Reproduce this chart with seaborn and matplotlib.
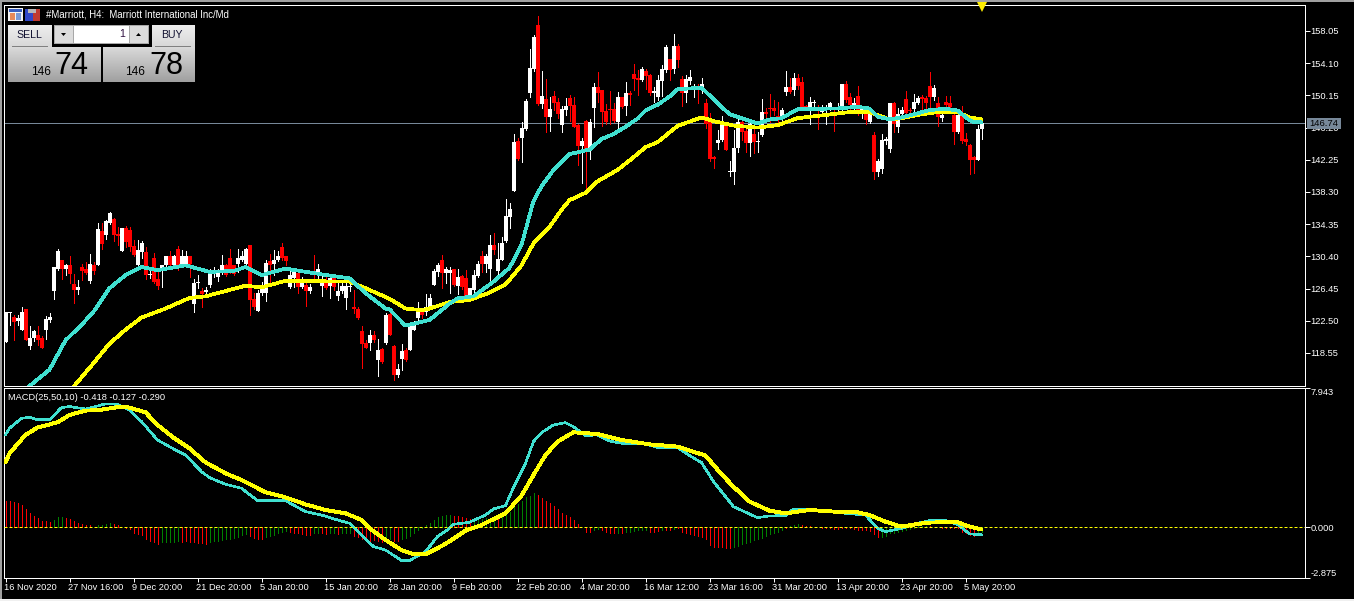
import numpy as np
import pandas as pd
import seaborn as sns
from matplotlib import pyplot as plt
from matplotlib.patches import Rectangle, Polygon
from matplotlib.transforms import ScaledTranslation

# OHLC per H4 bar
opens = [119.9,123.5,123.0,122.5,121.4,123.9,119.4,120.4,120.7,120.4,
    121.4,122.6,126.2,128.9,130.0,128.9,129.3,127.0,126.3,129.1,
    128.8,127.4,129.3,129.3,133.5,133.0,134.5,135.0,133.2,131.0,
    133.9,133.6,131.7,129.3,130.9,130.9,128.1,130.2,127.6,128.9,
    129.3,130.4,129.3,131.3,129.5,129.5,130.4,124.6,127.1,126.2,
    126.0,126.9,128.5,127.9,128.3,129.3,130.2,129.3,129.5,130.0,
    129.5,131.8,125.2,123.7,125.9,125.9,129.8,129.5,130.0,131.6,
    130.4,126.6,127.7,128.3,126.6,126.9,126.1,128.5,128.2,126.8,
    127.5,126.8,127.7,125.5,126.1,125.3,126.7,124.2,124.0,121.3,
    119.8,119.8,120.8,117.7,119.0,119.8,123.3,119.4,115.8,117.8,
    118.9,118.9,121.4,122.8,123.6,123.6,124.2,126.9,128.5,129.95,
    128.3,128.3,128.8,126.8,128.0,127.7,125.45,126.3,128.0,130.4,
    129.5,128.85,131.8,128.6,129.95,132.3,135.2,138.45,144.5,144.9,
    146.0,150.5,153.35,158.8,149.1,149.7,147.55,150.1,149.3,146.5,
    148.35,149.8,149.0,146.5,143.95,147.05,143.5,148.65,151.15,150.8,
    148.2,148.45,148.5,146.9,149.9,148.85,150.4,152.8,152.25,152.05,
    153.15,152.65,150.4,149.9,151.95,153.25,154.6,153.35,156.2,152.15,
    150.5,151.95,151.0,151.3,151.0,149.25,146.9,142.55,144.25,144.7,
    146.7,140.8,140.8,143.65,146.9,145.8,144.25,145.4,144.45,145.3,
    148.15,148.55,148.55,147.6,147.35,150.6,151.15,150.8,152.25,151.75,
    148.9,148.75,149.2,148.75,148.15,148.35,148.75,148.15,148.35,148.35,
    151.6,149.9,148.75,150.05,148.0,148.35,146.9,145.3,140.8,141.1,
    144.6,143.6,149.2,146.3,147.85,149.65,148.35,148.5,149.2,149.9,
    149.85,151.35,150.0,149.2,147.4,149.4,149.2,147.75,145.7,147.75,
    144.8,144.05,142.55,142.2,145.98]
closes = [123.6,123.6,122.4,122.9,123.6,120.2,120.4,121.2,120.1,119.2,
    122.7,123.0,129.1,131.1,128.9,129.3,128.2,126.3,126.6,128.6,
    128.4,129.5,128.6,133.8,131.9,134.8,135.7,133.0,132.9,133.9,
    132.2,131.6,130.6,131.2,132.0,128.1,128.2,127.3,126.8,129.3,
    130.4,129.3,130.4,129.3,130.4,130.4,129.5,127.1,127.3,125.8,
    126.3,128.4,128.7,128.3,129.3,128.1,128.7,128.2,130.2,130.4,
    131.3,125.0,124.2,125.9,126.8,129.6,129.3,130.0,130.4,130.2,
    129.8,128.1,128.5,126.6,127.2,126.2,126.6,128.1,128.9,127.2,
    126.5,127.7,126.7,126.2,126.8,126.8,126.8,123.9,122.9,119.7,
    119.2,120.7,120.1,118.9,117.4,123.2,120.8,115.8,116.6,118.8,
    117.7,122.0,122.4,123.6,123.2,124.2,125.3,128.65,129.4,128.3,
    128.8,128.7,126.9,127.9,126.6,125.45,126.5,128.1,129.5,129.5,
    130.4,131.8,131.2,130.1,132.1,135.35,136.2,144.4,142.4,146.15,
    149.5,153.5,157.35,149.05,150.1,147.55,148.5,149.2,147.9,148.45,
    148.85,148.85,146.3,143.95,144.55,143.5,146.9,151.15,150.5,148.15,
    146.85,148.35,147.0,149.9,148.7,150.4,150.15,152.15,152.05,153.35,
    152.5,150.4,150.7,152.05,153.35,156.1,153.25,156.2,154.5,150.4,
    152.15,152.45,151.3,150.8,151.55,146.7,142.3,142.3,144.7,146.7,
    143.45,140.9,143.75,146.85,145.7,144.25,146.7,144.4,144.55,148.15,
    147.85,148.45,148.25,147.35,148.35,151.15,150.6,152.25,151.3,148.75,
    148.55,149.3,149.3,148.45,148.35,148.55,149.2,147.95,148.65,151.55,
    149.6,148.95,149.2,148.15,148.45,147.1,148.15,140.8,142.1,144.7,
    144.75,149.2,146.7,147.85,148.35,147.95,148.2,149.3,149.8,149.65,
    149.2,150.0,151.1,147.55,147.75,148.95,148.7,145.7,147.75,144.6,
    144.4,142.2,142.2,146.0,146.74]
highs = [123.6,123.6,123.2,123.2,124.2,124.0,121.8,121.4,121.9,120.6,
    123.1,123.4,129.1,131.3,130.0,129.5,130.4,128.2,127.5,129.5,
    129.7,130.7,129.7,134.5,134.5,134.9,135.8,135.1,134.0,133.9,
    134.1,134.0,132.4,132.4,132.3,131.5,128.9,130.8,128.9,129.3,
    130.4,131.0,130.6,131.7,131.2,131.0,130.4,127.6,128.1,126.5,
    126.6,128.9,129.1,128.9,130.6,129.5,131.3,129.3,131.3,131.0,
    131.4,131.8,125.9,126.3,127.3,130.0,130.7,131.2,131.0,132.0,
    130.4,129.1,128.9,128.5,127.9,127.1,127.0,130.6,129.5,128.1,
    128.1,128.1,128.2,127.1,127.5,127.1,127.5,126.3,124.2,121.9,
    120.1,121.4,121.2,120.3,119.1,123.4,123.5,119.5,117.2,119.7,
    119.1,122.2,122.5,124.8,124.0,125.8,125.8,128.9,129.6,130.6,
    129.1,129.1,128.9,128.9,128.1,128.7,126.5,128.7,129.8,131.05,
    130.7,133.0,133.3,132.1,132.8,137.5,137.0,145.4,144.9,146.85,
    149.7,155.9,157.6,159.9,153.15,152.15,149.9,150.7,149.8,148.8,
    149.8,150.2,149.9,146.7,144.95,147.1,147.3,151.7,153.0,150.8,
    149.1,150.7,149.2,150.6,149.9,151.75,150.7,154.0,153.25,153.6,
    153.35,152.8,151.15,152.65,153.9,156.3,154.6,157.7,156.4,152.5,
    152.65,153.25,151.55,151.55,152.25,149.65,147.95,142.7,145.9,147.6,
    146.9,142.1,145.9,147.2,147.1,146.5,147.2,146.7,145.7,149.7,
    148.55,150.3,149.6,149.4,148.55,153.15,152.25,152.85,152.8,152.35,
    148.95,149.9,149.6,148.95,148.95,148.95,149.4,148.35,149.2,151.6,
    151.9,150.5,149.8,151.3,148.75,148.55,148.35,145.6,142.3,145.4,
    145.0,149.25,149.4,148.55,148.75,150.7,148.65,150.3,150.05,150.2,
    150.05,153.05,151.4,149.9,148.35,150.05,150.05,148.35,148.35,148.85,
    145.55,144.2,142.75,146.5,146.9]
lows = [119.9,122.0,120.1,122.0,121.4,120.1,119.0,120.0,119.5,119.2,
    120.3,122.4,125.2,128.7,127.6,128.1,127.1,124.7,125.8,127.5,
    128.2,127.1,128.2,129.3,131.3,132.5,134.4,132.3,131.8,131.0,
    131.6,131.0,130.4,129.1,130.2,127.6,127.8,127.1,126.4,126.6,
    129.1,129.1,129.1,128.7,129.3,129.1,127.9,123.6,126.5,124.2,
    125.7,126.6,127.9,127.4,128.2,128.0,128.3,128.1,128.5,129.8,
    129.5,123.2,124.0,123.7,125.7,124.9,127.1,128.1,129.8,130.0,
    129.3,126.5,126.7,125.9,126.5,124.3,125.9,127.3,127.3,125.5,
    126.4,125.3,126.3,125.1,125.9,124.0,126.2,123.4,122.7,116.7,
    119.1,118.9,119.9,115.7,117.3,119.7,120.8,115.2,115.6,116.5,
    117.6,118.9,121.4,122.4,122.9,123.2,124.2,126.9,128.0,126.55,
    127.1,125.9,126.8,125.8,126.35,125.45,125.45,125.9,127.9,128.5,
    128.5,127.4,130.7,127.7,129.9,132.15,133.9,138.45,142.2,142.0,
    145.9,150.0,153.15,149.0,148.6,145.7,145.8,148.4,147.35,145.7,
    147.75,147.0,146.3,141.6,139.35,138.8,142.4,146.3,149.4,146.45,
    146.7,146.7,146.9,145.9,148.6,147.75,149.0,150.8,150.2,151.9,
    150.95,150.2,149.4,149.6,150.1,153.05,152.05,152.85,153.6,148.85,
    149.4,151.6,149.9,149.25,150.4,146.1,142.1,141.3,143.6,144.55,
    143.45,140.3,139.3,143.25,144.7,143.15,142.7,143.1,143.25,145.15,
    147.35,146.9,147.75,146.7,147.15,150.2,150.5,150.2,150.9,148.55,
    148.35,146.65,148.55,146.05,147.75,146.65,148.35,145.8,148.0,148.35,
    149.4,148.35,148.35,147.75,147.35,146.7,146.8,139.9,140.25,140.65,
    144.2,143.25,145.6,145.6,147.55,147.75,147.65,147.95,149.05,148.45,
    148.65,148.55,149.6,146.4,147.0,148.35,148.35,144.2,145.55,144.25,
    144.05,140.5,140.6,142.2,144.8]

# moving averages, read at the bends of each line
fast_bars = [3,6,11,13,15,19,22,26,30,34,38,45,51,57,60,64,70,79,86,90,95,96,100,106,111,113,117,122,126,129,
    132,134,137,141,146,149,152,155,158,160,163,166,168,174,178,181,188,191,194,198,208,213,216,218,221,224,228,231,235,238,241,242,244]
fast_ma = [112.0,114.5,116.5,118.3,120.1,122.0,123.6,126.5,128.1,129.1,128.7,129.3,128.5,128.6,129.1,128.1,128.9,128.2,127.7,125.9,124.0,123.9,121.9,122.6,124.6,125.25,125.5,127.3,129.0,131.8,
    137.2,139.0,141.0,142.95,143.5,144.8,145.4,146.3,147.3,148.3,149.0,150.0,150.9,151.1,149.2,147.85,146.7,147.2,147.35,148.45,148.55,148.75,148.55,147.55,147.2,147.45,147.95,148.35,148.5,148.3,147.1,146.9,146.85]
slow_bars = [14,17,22,26,30,34,40,46,50,60,64,70,86,90,96,100,104,106,111,116,121,125,129,132,136,139,141,145,148,153,157,160,163,168,174,177,182,188,193,198,205,211,216,221,224,228,233,238,241,244]
slow_ma = [112.5,114.4,117.3,119.7,121.4,122.9,124.0,125.3,125.5,126.8,126.6,127.4,127.3,126.5,125.2,124.0,123.8,124.0,124.8,125.05,125.95,126.95,129.3,132.0,134.0,136.1,137.3,138.2,139.6,141.0,142.55,143.8,144.4,146.4,147.45,147.0,146.45,146.2,146.5,147.35,147.75,148.1,148.1,147.2,147.35,147.75,148.1,148.1,147.45,147.2]

# MACD panel
macd_bars = [0,1,4,6,8,11,14,16,20,25,28,31,34,38,42,45,49,51,55,59,63,70,75,79,83,86,89,92,95,99,101,105,108,111,112,116,120,122,125,127,130,132,134,137,140,142,145,148,151,155,160,163,168,171,174,177,182,188,191,195,197,201,207,215,218,220,224,228,231,235,238,241,244]
macd_line = [5.28,5.66,6.23,6.29,6.15,6.15,6.84,6.90,6.76,7.05,7.03,6.70,6.04,4.99,4.48,4.13,3.18,2.84,2.46,2.23,1.52,1.52,0.90,0.70,0.42,0.23,-0.44,-1.10,-1.30,-1.90,-1.90,-1.39,-0.53,-0.06,0.17,0.29,0.70,1.05,1.24,2.27,3.66,4.9,5.41,5.85,5.98,5.75,5.24,5.28,4.93,4.76,4.76,4.57,4.57,4.10,3.70,2.61,1.18,0.55,0.65,0.67,1.05,1.05,0.86,0.70,-0.06,-0.25,-0.06,0.23,0.38,0.38,0.17,-0.38,-0.418]
signal_bars = [0,1,5,8,13,16,20,23,29,31,35,38,42,46,50,55,59,62,65,70,75,80,85,89,91,95,99,102,105,108,111,115,119,125,129,132,135,138,142,148,154,161,168,175,179,182,186,191,195,201,207,213,216,220,224,228,231,235,238,241,244]
signal_line = [3.71,4.23,5.28,5.70,6.0,6.42,6.67,6.69,6.90,6.84,6.57,5.85,5.12,4.51,3.71,3.09,2.70,2.36,2.0,1.71,1.31,0.99,0.80,0.42,-0.06,-0.72,-1.30,-1.54,-1.54,-1.2,-0.80,-0.19,0.13,0.8,1.81,2.99,4.13,4.9,5.43,5.33,4.99,4.74,4.61,4.10,3.03,2.32,1.47,0.95,0.8,0.99,0.9,0.86,0.70,0.32,0.04,0.19,0.27,0.29,0.29,0.04,-0.127]
hist_values = [1.5,1.5,1.47,1.37,1.28,1.05,.8,.67,.51,.36,
    .36,.29,.42,.59,.59,.51,.46,.36,.23,.17,
    .13,.11,.02,.11,.15,.21,.27,.19,.11,.02,
    -.02,-.11,-.3,-.38,-.44,-.67,-.76,-.86,-.93,-.86,
    -.86,-.82,-.82,-.78,-.82,-.78,-.82,-.86,-.88,-.9,
    -.93,-.86,-.78,-.78,-.72,-.67,-.67,-.63,-.53,-.44,
    -.38,-.48,-.6,-.67,-.67,-.53,-.48,-.44,-.34,-.25,
    -.21,-.29,-.3,-.34,-.38,-.44,-.44,-.34,-.3,-.34,
    -.38,-.34,-.34,-.38,-.34,-.34,-.34,-.48,-.55,-.67,
    -.72,-.82,-.72,-.78,-.82,-.59,-.67,-.78,-.78,-.69,
    -.63,-.48,-.34,-.15,-.02,.13,.23,.42,.57,.67,
    .7,.7,.65,.65,.57,.51,.48,.42,.42,.46,
    .51,.51,.55,.61,.67,.7,.9,1.14,1.33,1.52,
    1.71,1.79,1.98,1.85,1.7,1.5,1.37,1.22,1.05,.8,
    .7,.57,.42,.17,.01,-.25,-.29,-.15,-.11,-.15,
    -.29,-.3,-.32,-.32,-.3,-.29,-.25,-.21,-.17,-.13,
    -.17,-.25,-.29,-.21,-.15,-.17,-.13,-.1,-.06,-.29,
    -.32,-.36,-.44,-.5,-.53,-.67,-1.01,-1.1,-1.1,-1.12,
    -1.16,-1.2,-1.12,-1.05,-.97,-.91,-.82,-.74,-.67,-.59,
    -.48,-.38,-.3,-.25,-.15,-.02,.06,.11,.17,.11,
    .08,.06,.04,.01,-.02,-.06,-.06,-.1,-.1,-.04,
    -.04,-.06,-.08,-.13,-.13,-.15,-.2,-.4,-.53,-.53,
    -.48,-.34,-.3,-.25,-.2,-.15,-.08,-.06,.08,.1,
    .1,.06,.04,.02,-.02,-.04,-.06,-.04,-.06,-.25,
    -.34,-.44,-.48,-.38,-.29]
hist_side = list("rrrrrrrrrrrr" "ggg" "rrrrrrrr" "gggg" "rrrrrrrrrrrr" "ggggg" "rrrrrrr"
    "gggggggggg" "rrrr" "gggggg" "rrrrrr" "gg" "rr" "gg" "r" "ggg" "rrrrrrrr" "gg" "rr"
    "ggggggggggggg" "rrrrr" "gggggg" "r" "ggggggggg" "rrrrrrrrrrrrrr" "gg" "rrrr" "g" "r"
    "gggggg" "rrr" "g" "rr" "g" "rrrrrrrrrrrrrr" "ggggggggggggg" "r" "ggg"
    "rrrrrrrrrrrrrrrrrrrr" "gggggggggggg" "rrrrrrrrrrrr" "gg")

price_ticks = [158.05,154.10,150.15,146.20,142.25,138.30,134.35,130.40,126.45,122.50,118.55]
macd_ticks = [7.943,0.0,-2.875]
date_bars = list(range(0,241,16))
date_labels = ['16 Nov 2020','27 Nov 16:00','9 Dec 20:00','21 Dec 20:00','5 Jan 20:00','15 Jan 20:00',
    '28 Jan 20:00','9 Feb 20:00','22 Feb 20:00','4 Mar 20:00','16 Mar 12:00','23 Mar 16:00',
    '31 Mar 20:00','13 Apr 20:00','23 Apr 20:00','5 May 20:00']
last_price = 146.74

W, H = 1354, 601
TEAL = '#40e0d0'
YELLOW = '#ffff00'
RED = '#ff0000'
GREEN = '#008000'
PX = 0.72
XLIM = (-0.375, 324.875)

sns.set_theme(style='dark', rc={'axes.facecolor': 'black', 'figure.facecolor': 'black', 'text.color': 'white',
    'axes.edgecolor': 'white', 'xtick.color': 'white', 'ytick.color': 'white'})
plt.rcParams['font.family'] = ['Liberation Sans', 'DejaVu Sans']

fig = plt.figure(figsize=(W/100, H/100), dpi=100)

def px_axes(x0, y0, x1, y1):
    return fig.add_axes([x0/W, 1-y1/H, (x1-x0)/W, (y1-y0)/H])

def px_rect(x0, y0, x1, y1, color):
    fig.add_artist(Rectangle((x0/W, 1-y1/H), (x1-x0)/W, (y1-y0)/H, transform=fig.transFigure, fc=color, lw=0, antialiased=False))

def px_grad(x0, y0, x1, y1, top, bottom):
    for row in range(y0, y1):
        g = top + (bottom-top)*(row-y0)/(y1-y0)
        px_rect(x0, row, x1, row+1, (g, g, g))

def px_text(x, y, s, size, color='white', ha='left', va='center', **kw):
    fig.text(x/W, 1-y/H, s, fontsize=size, color=color, ha=ha, va=va, **kw)

def px_poly(points, color):
    fig.add_artist(Polygon([(x/W, 1-y/H) for x, y in points], transform=fig.transFigure, fc=color, lw=0))

# price panel
ax = px_axes(4, 4.5, 1305, 385.5)
df = pd.DataFrame({'bar': np.arange(len(opens)), 'open': opens, 'high': highs, 'low': lows, 'close': closes})
df['color'] = np.where(df['close'] >= df['open'], 'white', RED)
ax.vlines(df['bar'], df['low'], df['high'], colors=df['color'], lw=PX, antialiased=False, zorder=2)
ax.vlines(df['bar'], df[['open', 'close']].min(axis=1), df[['open', 'close']].max(axis=1), colors=df['color'],
    lw=3.6*PX, antialiased=False, zorder=2)
ax.axhline(last_price, color='#778899', lw=PX, zorder=1)
sns.lineplot(x=slow_bars, y=slow_ma, color=YELLOW, lw=2.7*PX, ax=ax, errorbar=None, zorder=3, antialiased=False)
sns.lineplot(x=fast_bars, y=fast_ma, color=TEAL, lw=2.7*PX, ax=ax, errorbar=None, zorder=4, antialiased=False)
ax.plot([244], [161.0], marker='v', ms=7.5, color='#ffee00', mew=0, clip_on=False, zorder=6)
ax.set_xlim(*XLIM)
ax.set_ylim(114.56, 161.30)
ax.set_xticks([])
ax.yaxis.tick_right()
ax.set_yticks(price_ticks)
ax.set_yticklabels(['%.2f' % v for v in price_ticks])
ax.tick_params(axis='y', length=3.6, width=PX, pad=0.4, labelsize=6.7, colors='white', left=False, right=True)
ax.add_patch(Rectangle((1.0015, last_price-0.67), 0.0261, 1.35, transform=ax.get_yaxis_transform(), fc='#778899', lw=0, clip_on=False, zorder=5))
ax.text(1.0146, last_price, '%.2f' % last_price, transform=ax.get_yaxis_transform(), color='black', fontsize=6.8, ha='center', va='center', zorder=6)
ax.grid(False)

# MACD panel
ax2 = px_axes(4, 387.5, 1305, 578)
sides = pd.DataFrame({'bar': np.arange(len(hist_values)), 'value': hist_values, 'side': hist_side})
ax2.vlines(sides['bar'], 0, sides['value'], colors=sides['side'].map({'r': RED, 'g': GREEN}), lw=PX, antialiased=False, zorder=2)
sns.lineplot(x=macd_bars, y=macd_line, color=TEAL, lw=1.6*PX, ax=ax2, errorbar=None, zorder=3, antialiased=False)
ax2.axhline(0, color=YELLOW, lw=PX, ls=(0, (3, 2)), zorder=4)
sns.lineplot(x=signal_bars, y=signal_line, color=YELLOW, lw=2.9*PX, ax=ax2, errorbar=None, zorder=5, antialiased=False)
ax2.set_xlim(*XLIM)
ax2.set_ylim(-2.897, 7.989)
ax2.yaxis.tick_right()
ax2.set_yticks(macd_ticks)
ax2.set_yticklabels(['%.3f' % v for v in macd_ticks])
ax2.get_yticklabels()[0].set_va('top')
ax2.get_yticklabels()[2].set_va('bottom')
ax2.tick_params(axis='y', length=3.6, width=PX, pad=0.4, labelsize=6.7, colors='white', left=False, right=True)
ax2.set_xticks(date_bars)
ax2.set_xticklabels(date_labels, ha='left')
ax2.tick_params(axis='x', length=3, width=PX, pad=0.8, labelsize=6.7, colors='white', bottom=True)
for label in ax2.get_xticklabels():
    label.set_transform(label.get_transform() + ScaledTranslation(-1.5/100, 0, fig.dpi_scale_trans))
ax2.set_xlabel('')
ax2.set_ylabel('')
ax2.grid(False)
for a in (ax, ax2):
    for s in a.spines.values():
        s.set_color('white')
        s.set_linewidth(PX)

# window edges
px_rect(0, 0, W, 2, '#a0a0a0')
px_rect(0, 0, 2, H, '#a0a0a0')
px_rect(0, 599, W, 601, '#f0f0f0')

# title and icons
px_text(46, 14.5, '#Marriott, H4:  Marriott International Inc/Md', 6.9)
px_text(7.5, 397, 'MACD(25,50,10) -0.418 -0.127 -0.290', 6.65)
px_rect(8, 8, 23, 21, '#f4f4f4')
px_rect(9, 9, 22, 12, '#3a5fc0')
px_rect(10, 13, 15, 20, '#e88a5a')
px_rect(16, 13, 21, 20, '#7a9ad8')
px_rect(25, 9, 33, 21, '#3048c8')
px_rect(33, 9, 40, 21, '#c03a30')
px_rect(28, 9, 36, 13, '#b8b8b8')

# one click panel
px_grad(8, 25, 52, 47, 0.93, 0.84)
px_grad(152, 25, 195, 47, 0.93, 0.84)
px_rect(12, 46, 48, 47, '#808080')
px_rect(155, 46, 191, 47, '#808080')
px_rect(54, 25, 149, 44, '#a8a8a8')
px_rect(55, 26, 73, 43, '#dcdcdc')
px_rect(74, 26, 129, 43, 'white')
px_rect(130, 26, 148, 43, '#dcdcdc')
px_poly([(61, 33), (66, 33), (63.5, 36)], 'black')
px_poly([(136, 36), (141, 36), (138.5, 33)], 'black')
px_grad(8, 47, 101, 82, 0.85, 0.62)
px_grad(103, 47, 195, 82, 0.85, 0.62)
px_text(29, 35, 'SELL', 7.6, color='#101030', ha='center')
px_text(172, 35, 'BUY', 7.6, color='#101030', ha='center')
px_text(125, 34, '1', 7.6, color='#301040', ha='right')
px_text(41, 72, '146', 8.6, color='black', ha='center')
px_text(125, 72, '146', 8.6, color='black')
px_text(54, 65.5, '74', 22, color='black')
px_text(149, 65.5, '78', 22, color='black')

fig.savefig('out.png', dpi=100, facecolor='black')
